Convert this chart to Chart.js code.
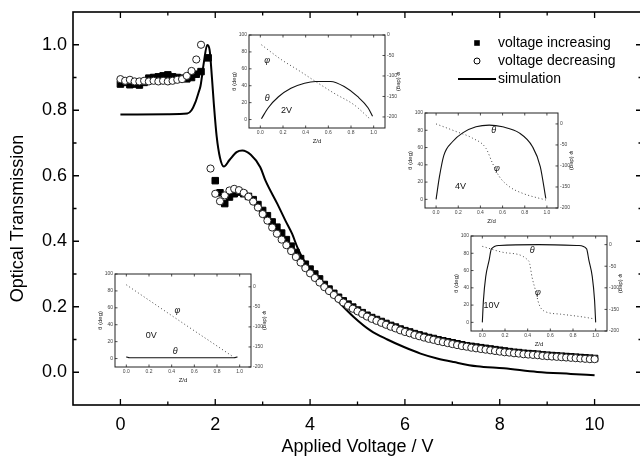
<!DOCTYPE html>
<html><head><meta charset="utf-8">
<script src="https://cdn.jsdelivr.net/npm/chart.js@4/dist/chart.umd.min.js"></script>
<style>
html,body{margin:0;padding:0;background:#fff;overflow:hidden;width:640px;height:456px;}
#wrap{position:relative;width:720px;height:456px;overflow:hidden;}
#main{position:absolute;left:0;top:0;width:642px;height:456px;}
.inset{position:absolute;}
</style></head><body>
<div id="wrap">
<canvas id="main" width="642" height="456"></canvas>
<canvas id="in2" class="inset"></canvas>
<canvas id="in4" class="inset"></canvas>
<canvas id="in10" class="inset"></canvas>
<canvas id="in0" class="inset"></canvas>
</div>
<script>
// ---------- main chart data ----------
const incV = [0,0.1,0.2,0.3,0.4,0.5,0.6,0.7,0.8,0.9,1.0,1.1,1.2,1.3,1.4,1.5,1.6,1.7,1.85,
  2.0,2.1,2.2,2.3,2.4,2.5,2.6,2.7,2.8,2.9,3.0,3.1,3.2,3.3,3.4,3.5,3.6,3.7,3.8,3.9,
  4.0,4.1,4.2,4.3,4.4,4.5,4.6,4.7,4.8,4.9,5.0,5.1,5.2,5.3,5.4,5.5,5.6,5.7,5.8,5.9,
  6.0,6.1,6.2,6.3,6.4,6.5,6.6,6.7,6.8,6.9,7.0,7.1,7.2,7.3,7.4,7.5,7.6,7.7,7.8,7.9,
  8.0,8.1,8.2,8.3,8.4,8.5,8.6,8.7,8.8,8.9,9.0,9.1,9.2,9.3,9.4,9.5,9.6,9.7,9.8,9.9,10.0];
const incT = [0.880,0.885,0.878,0.880,0.877,0.885,0.898,0.900,0.902,0.905,0.908,0.902,0.900,0.898,0.896,0.900,0.910,0.918,0.960,
  0.585,0.548,0.515,0.535,0.545,0.550,0.545,0.537,0.527,0.512,0.494,0.478,0.459,0.443,0.425,0.405,0.385,0.366,0.347,0.330,
  0.315,0.300,0.285,0.268,0.254,0.241,0.229,0.218,0.208,0.199,0.190,0.182,0.174,0.167,0.161,0.155,0.149,0.143,0.138,0.132,
  0.127,0.123,0.118,0.114,0.110,0.106,0.103,0.099,0.096,0.093,0.090,0.087,0.084,0.081,0.079,0.077,0.075,0.073,0.071,0.069,
  0.067,0.065,0.063,0.061,0.060,0.058,0.057,0.056,0.055,0.053,0.052,0.051,0.050,0.049,0.048,0.047,0.046,0.045,0.044,0.043,0.042];
const decV = [0,0.1,0.2,0.3,0.4,0.5,0.6,0.7,0.8,0.9,1.0,1.1,1.2,1.3,1.4,1.5,1.6,1.7,1.9,
  2.0,2.1,2.2,2.3,2.4,2.5,2.6,2.7,2.8,2.9,3.0,3.1,3.2,3.3,3.4,3.5,3.6,3.7,3.8,3.9,
  4.0,4.1,4.2,4.3,4.4,4.5,4.6,4.7,4.8,4.9,5.0,5.1,5.2,5.3,5.4,5.5,5.6,5.7,5.8,5.9,
  6.0,6.1,6.2,6.3,6.4,6.5,6.6,6.7,6.8,6.9,7.0,7.1,7.2,7.3,7.4,7.5,7.6,7.7,7.8,7.9,
  8.0,8.1,8.2,8.3,8.4,8.5,8.6,8.7,8.8,8.9,9.0,9.1,9.2,9.3,9.4,9.5,9.6,9.7,9.8,9.9,10.0];
const decT = [0.895,0.890,0.893,0.888,0.888,0.890,0.888,0.890,0.888,0.890,0.888,0.890,0.893,0.895,0.905,0.920,0.955,1.000,0.622,
  0.545,0.522,0.540,0.555,0.560,0.556,0.548,0.536,0.521,0.503,0.483,0.463,0.442,0.423,0.405,0.388,0.370,0.352,0.335,0.318,
  0.302,0.288,0.274,0.260,0.248,0.236,0.224,0.213,0.203,0.194,0.186,0.178,0.170,0.163,0.157,0.151,0.145,0.139,0.134,0.128,
  0.123,0.119,0.114,0.110,0.106,0.102,0.099,0.095,0.092,0.089,0.086,0.083,0.080,0.078,0.075,0.073,0.071,0.069,0.067,0.065,
  0.063,0.061,0.060,0.058,0.057,0.055,0.054,0.053,0.052,0.050,0.049,0.048,0.047,0.046,0.045,0.044,0.043,0.042,0.041,0.040,0.040];
const simV = [0,1.0,1.41,1.5,1.58,1.65,1.69,1.76,1.83,1.88,1.93,1.97,2.03,2.1,2.18,2.3,2.45,2.57,2.75,2.95,3.06,3.31,3.48,3.62,3.73,3.87,4.08,4.29,4.57,4.92,5.27,5.63,5.98,6.33,6.68,7.03,7.52,8.09,8.79,9.5,10.0];
const simT = [0.787,0.788,0.790,0.800,0.824,0.855,0.875,0.946,0.999,0.985,0.900,0.820,0.720,0.655,0.628,0.648,0.672,0.677,0.664,0.626,0.585,0.514,0.463,0.423,0.382,0.341,0.300,0.265,0.220,0.169,0.128,0.100,0.077,0.057,0.042,0.031,0.018,0.012,0.001,-0.005,-0.009];

const mainXTicks = [0,2,4,6,8,10];
const mainXMinor = [1,3,5,7,9];
const mainYTicks = [0,0.2,0.4,0.6,0.8,1.0];
const mainYMinor = [0.1,0.3,0.5,0.7,0.9];
const legendNames = ['voltage increasing','voltage decreasing','simulation'];

// ---------- inset data (director profiles) ----------
const zTicks = [0,0.2,0.4,0.6,0.8,1.0];
const thetaTicks = [0,20,40,60,80,100];
const phiTicks = [-200,-150,-100,-50,0];

const th0Z = [0,0.03,0.3,0.5,0.7,0.95,0.98];
const th0 = [2,1,1,1,1,1,2];
const ph0Z = [0,0.47,0.94];
const ph0 = [5,-85,-174];

const th2Z = [0.01,0.07,0.16,0.27,0.39,0.49,0.62,0.74,0.86,0.95,0.99];
const th2 = [1,14,27,37,43,45,45,39,27,14,4];
const ph2Z = [0.01,0.19,0.33,0.49,0.65,0.83,0.96];
const ph2 = [-24,-61,-85,-114,-142,-171,-203];

const th4Z = [0,0.03,0.07,0.15,0.24,0.36,0.48,0.6,0.75,0.87,0.94,0.99];
const th4 = [0,26,51,67,77,84,86,84,77,61,38,1];
const ph4Z = [0,0.18,0.33,0.45,0.51,0.57,0.66,0.78,0.99];
const ph4 = [0,-18,-34,-58,-94,-125,-149,-165,-181];

const th10Z = [0,0.01,0.03,0.06,0.08,0.15,0.5,0.85,0.92,0.94,0.97,0.99,1.0];
const th10 = [0,26,53,72,85,89,90,89,85,72,53,26,0];
const ph10Z = [0,0.21,0.41,0.44,0.47,0.5,0.54,0.69,0.9,0.99];
const ph10 = [-4,-19,-38,-77,-107,-138,-153,-161,-168,-172];

// ---------- helpers / plugins ----------
const FONT = "'Liberation Sans', Arial, Helvetica, sans-serif";
const toXY = (xs, ys) => xs.map((x, i) => ({x: x, y: ys[i]}));

const frameTicks = {
  id: 'frameTicks',
  afterDatasetsDraw(chart, args, o) {
    const ctx = chart.ctx, a = chart.chartArea;
    ctx.save();
    ctx.strokeStyle = o.color || '#000';
    ctx.lineWidth = o.lineWidth;
    ctx.strokeRect(a.left, a.top, a.right - a.left, a.bottom - a.top);
    ctx.lineWidth = o.tickWidth;
    Object.keys(o.sides).forEach(id => {
      const s = chart.scales[id];
      const sides = o.sides[id];
      const major = s.ticks.map(t => t.value);
      const minor = (o.minor && o.minor[id]) || [];
      const draw = (vals, len) => {
        vals.forEach(v => {
          const p = s.getPixelForValue(v);
          ctx.beginPath();
          sides.forEach(side => {
            if (side === 'bottom') { ctx.moveTo(p, a.bottom); ctx.lineTo(p, a.bottom - len); }
            if (side === 'top') { ctx.moveTo(p, a.top); ctx.lineTo(p, a.top + len); }
            if (side === 'left') { ctx.moveTo(a.left, p); ctx.lineTo(a.left + len, p); }
            if (side === 'right') { ctx.moveTo(a.right, p); ctx.lineTo(a.right - len, p); }
          });
          ctx.stroke();
        });
      };
      draw(major, o.majorLen);
      draw(minor, o.minorLen);
    });
    ctx.restore();
  }
};

const boxLegend = {
  id: 'boxLegend',
  afterDraw(chart, args, o) {
    const ctx = chart.ctx;
    ctx.save();
    ctx.font = '14px ' + FONT;
    ctx.fillStyle = '#000';
    ctx.textBaseline = 'middle';
    o.names.forEach((name, i) => {
      const ds = chart.data.datasets.find(d => d.label === name);
      const y = o.y + i * o.dy;
      ctx.strokeStyle = '#000';
      if (ds.showLine) {
        ctx.lineWidth = ds.borderWidth;
        ctx.beginPath(); ctx.moveTo(o.lineX0, y); ctx.lineTo(o.lineX1, y); ctx.stroke();
      } else if (ds.pointStyle === 'rect') {
        ctx.fillStyle = '#000';
        ctx.fillRect(o.markX - 2.8, y - 2.8, 5.6, 5.6);
      } else {
        ctx.lineWidth = 1;
        ctx.fillStyle = '#fff';
        ctx.beginPath(); ctx.arc(o.markX, y, 3, 0, Math.PI * 2); ctx.fill(); ctx.stroke();
      }
      ctx.fillStyle = '#000';
      ctx.fillText(name, o.textX, y);
    });
    ctx.restore();
  }
};

const insetLabels = {
  id: 'insetLabels',
  afterDraw(chart, args, o) {
    const ctx = chart.ctx, sx = chart.scales.x, sy = chart.scales.y;
    ctx.save();
    ctx.fillStyle = '#111';
    ctx.textAlign = 'center';
    ctx.textBaseline = 'middle';
    o.items.forEach(it => {
      ctx.font = (it.italic ? 'italic ' : '') + it.size + 'px ' + FONT;
      ctx.fillText(it.text, sx.getPixelForValue(it.z), sy.getPixelForValue(it.t));
    });
    ctx.restore();
  }
};

const noPadX = (h) => s => { s.height = h; s.paddingLeft = 0; s.paddingRight = 0; };
const noPadY = (w) => s => { s.width = w; s.paddingTop = 0; s.paddingBottom = 0; };

// ---------- main chart ----------
new Chart(document.getElementById('main'), {
  type: 'scatter',
  data: { datasets: [
    { label: 'voltage decreasing', data: toXY(decV, decT), pointStyle: 'circle', pointRadius: 3.6,
      backgroundColor: '#fff', borderColor: '#222', borderWidth: 1, order: 0 },
    { label: 'voltage increasing', data: toXY(incV, incT), pointStyle: 'rect', pointRadius: 4.6,
      backgroundColor: '#000', borderColor: '#000', borderWidth: 1, order: 1 },
    { label: 'simulation', data: toXY(simV, simT), showLine: true, pointRadius: 0, borderColor: '#000',
      borderWidth: 2, cubicInterpolationMode: 'monotone', fill: false, order: 2 }
  ]},
  options: {
    responsive: false, maintainAspectRatio: false, animation: false, events: [],
    layout: { autoPadding: false, padding: { top: 12, right: 0, left: 0, bottom: 0 } },
    plugins: {
      legend: { display: false }, tooltip: { enabled: false },
      frameTicks: { lineWidth: 1.6, tickWidth: 1.3, majorLen: 6, minorLen: 3.5,
        sides: { x: ['bottom', 'top'], y: ['left', 'right'] },
        minor: { x: mainXMinor, y: mainYMinor } },
      boxLegend: { names: legendNames, y: 43, dy: 18, markX: 477, textX: 498, lineX0: 458, lineX1: 496 }
    },
    scales: {
      x: { type: 'linear', min: -1, max: 11,
        afterBuildTicks: s => { s.ticks = mainXTicks.map(v => ({ value: v })); },
        afterFit: noPadX(51),
        grid: { display: false, drawTicks: false }, border: { display: false },
        ticks: { font: { family: FONT, size: 18 }, color: '#000', padding: 9, maxRotation: 0, autoSkip: false,
          callback: v => String(v) },
        title: { display: true, text: 'Applied Voltage / V', color: '#000',
          font: { family: FONT, size: 18, lineHeight: 1 }, padding: { top: 0, bottom: 0 } } },
      y: { type: 'linear', min: -0.1, max: 1.1,
        afterBuildTicks: s => { s.ticks = mainYTicks.map(v => ({ value: v })); },
        afterFit: noPadY(73),
        grid: { display: false, drawTicks: false }, border: { display: false },
        ticks: { font: { family: FONT, size: 18 }, color: '#000', padding: 6, autoSkip: false,
          callback: v => Number(v).toFixed(1) },
        title: { display: true, text: 'Optical Transmission    ', color: '#000',
          font: { family: FONT, size: 18, lineHeight: 1 }, padding: { top: 9, bottom: 0 } } }
    }
  },
  plugins: [frameTicks, boxLegend]
});

// ---------- insets ----------
function makeInset(id, frame, thZ, th, phZ, ph, phMin, phMax, labels) {
  const L = 24, R = 22, T = 4, B = 18;
  const cv = document.getElementById(id);
  cv.width = frame.w + L + R;
  cv.height = frame.h + T + B;
  cv.style.left = (frame.x - L) + 'px';
  cv.style.top = (frame.y - T) + 'px';
  const tickFont = { family: FONT, size: 5 };
  const titleFont = { family: FONT, size: 6, lineHeight: 1 };
  new Chart(cv, {
    type: 'scatter',
    data: { datasets: [
      { data: toXY(thZ, th), yAxisID: 'y', showLine: true, pointRadius: 0, borderColor: '#111',
        borderWidth: 1.1, cubicInterpolationMode: 'monotone', fill: false },
      { data: toXY(phZ, ph), yAxisID: 'y2', showLine: true, pointRadius: 0, borderColor: '#444',
        borderWidth: 1, borderDash: [1, 2.5], cubicInterpolationMode: 'monotone', fill: false }
    ]},
    options: {
      responsive: false, animation: false, events: [],
      layout: { autoPadding: false, padding: { top: T, left: 0, right: 0, bottom: 0 } },
      plugins: {
        legend: { display: false }, tooltip: { enabled: false },
        frameTicks: { lineWidth: 1, tickWidth: 0.8, majorLen: 2.5, minorLen: 1.5, color: '#222',
          sides: { x: ['bottom', 'top'], y: ['left'], y2: ['right'] }, minor: {} },
        insetLabels: { items: labels }
      },
      scales: {
        x: { type: 'linear', min: -0.1, max: 1.1,
          afterBuildTicks: s => { s.ticks = zTicks.map(v => ({ value: v })); },
          afterFit: noPadX(B),
          grid: { display: false, drawTicks: false }, border: { display: false },
          ticks: { font: tickFont, color: '#444', padding: 2, maxRotation: 0, autoSkip: false,
            callback: v => Number(v).toFixed(1) },
          title: { display: true, text: 'Z/d', color: '#222', font: titleFont, padding: { top: 0, bottom: 2 } } },
        y: { type: 'linear', position: 'left', min: -10, max: 100,
          afterBuildTicks: s => { s.ticks = thetaTicks.map(v => ({ value: v })); },
          afterFit: noPadY(L),
          grid: { display: false, drawTicks: false }, border: { display: false },
          ticks: { font: tickFont, color: '#444', padding: 2, autoSkip: false, callback: v => String(v) },
          title: { display: true, text: 'θ (deg)', color: '#222', font: titleFont, padding: { top: 6, bottom: 0 } } },
        y2: { type: 'linear', position: 'right', min: phMin, max: phMax,
          afterBuildTicks: s => { s.ticks = phiTicks.map(v => ({ value: v })); },
          afterFit: noPadY(R),
          grid: { display: false, drawTicks: false }, border: { display: false },
          ticks: { font: tickFont, color: '#444', padding: 2, autoSkip: false, callback: v => String(v) },
          title: { display: true, text: 'φ (deg)', color: '#222', font: titleFont, padding: { top: 5, bottom: 0 } } }
      }
    },
    plugins: [frameTicks, insetLabels]
  });
}

makeInset('in2', { x: 249, y: 35, w: 136, h: 93 }, th2Z, th2, ph2Z, ph2, -227, 0, [
  { text: 'φ', z: 0.06, t: 70, size: 9, italic: true },
  { text: 'θ', z: 0.06, t: 25, size: 9, italic: true },
  { text: '2V', z: 0.23, t: 11, size: 9, italic: false }]);
makeInset('in4', { x: 425, y: 113, w: 133, h: 95 }, th4Z, th4, ph4Z, ph4, -200, 26, [
  { text: 'θ', z: 0.52, t: 80, size: 9, italic: true },
  { text: 'φ', z: 0.55, t: 36, size: 9, italic: true },
  { text: '4V', z: 0.22, t: 15, size: 9, italic: false }]);
makeInset('in10', { x: 471, y: 236, w: 136, h: 95 }, th10Z, th10, ph10Z, ph10, -200, 20, [
  { text: 'θ', z: 0.44, t: 83, size: 9, italic: true },
  { text: 'φ', z: 0.49, t: 35, size: 9, italic: true },
  { text: '10V', z: 0.08, t: 19, size: 9, italic: false }]);
makeInset('in0', { x: 115, y: 274, w: 136, h: 93 }, th0Z, th0, ph0Z, ph0, -200, 32, [
  { text: 'φ', z: 0.45, t: 57, size: 9, italic: true },
  { text: '0V', z: 0.22, t: 27, size: 9, italic: false },
  { text: 'θ', z: 0.43, t: 8, size: 9, italic: true }]);
</script>
</body></html>
